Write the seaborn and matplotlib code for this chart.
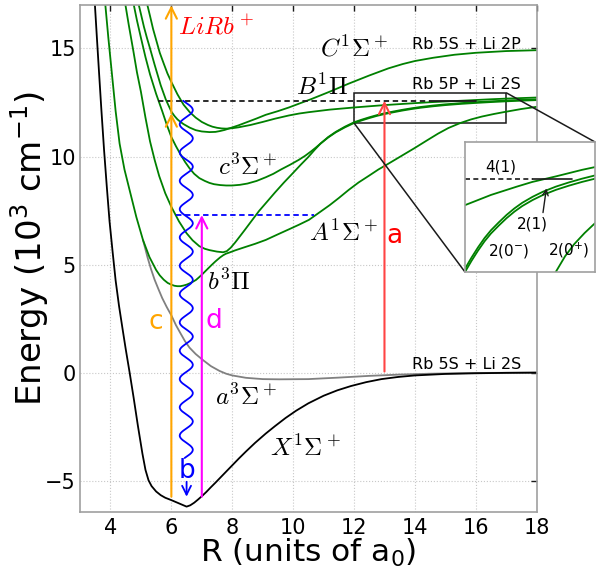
import numpy as np
import matplotlib
matplotlib.use("Agg")
import matplotlib.pyplot as plt
import seaborn as sns
from mpl_toolkits.axes_grid1.inset_locator import mark_inset

# ---------------- data ----------------
# X 1Sigma+ (black)
R_X = [3.49, 3.55, 3.62, 3.7, 3.79, 3.88, 3.97, 4.07, 4.17, 4.28, 4.4, 4.5, 4.63, 4.76, 4.9, 5.05,
       5.15, 5.25, 5.35, 5.5, 5.65, 5.8, 6.0, 6.25, 6.5, 6.62, 6.75, 6.87, 7.0, 7.15, 7.3, 7.45,
       7.58, 7.8, 8.0, 8.22, 8.45, 8.75, 9.1, 9.4, 9.75, 10.1, 10.5, 11.0, 11.45, 11.9, 12.4,
       12.9, 13.45, 14.0, 15.0, 16.0, 17.0, 18.0]
E_X = [17.0, 15.6, 14.0, 12.2, 10.3, 8.6, 7.0, 5.6, 4.26, 3.1, 2.0, 1.1, 0.0, -1.15, -2.45, -3.75,
       -4.5, -4.98, -5.25, -5.5, -5.67, -5.79, -5.9, -6.05, -6.2, -6.14, -6.02, -5.88, -5.72, -5.52,
       -5.3, -5.09, -4.9, -4.58, -4.29, -3.97, -3.65, -3.25, -2.82, -2.48, -2.1, -1.76, -1.42,
       -1.07, -0.82, -0.62, -0.44, -0.3, -0.2, -0.13, -0.06, -0.03, -0.01, 0.0]
# a 3Sigma+ (gray)
R_a = [5.07, 5.15, 5.22, 5.33, 5.45, 5.58, 5.7, 5.85, 6.0, 6.15, 6.3, 6.45, 6.6, 6.8, 7.03, 7.3,
       7.58, 7.8, 8.0, 8.45, 9.0, 9.54, 10.5, 11.5, 12.5, 13.5, 14.5, 16.0, 18.0]
E_a = [6.13, 5.7, 5.32, 4.8, 4.3, 3.85, 3.45, 3.03, 2.65, 2.2, 1.82, 1.45, 1.15, 0.86, 0.59, 0.3,
       0.08, -0.05, -0.13, -0.24, -0.3, -0.31, -0.3, -0.23, -0.15, -0.09, -0.05, -0.015, 0.0]
# b 3Pi -> A 1Sigma+ branch (green)
R_b = [3.82, 3.93, 4.05, 4.17, 4.3, 4.46, 4.63, 4.85, 5.07, 5.28, 5.5, 5.62, 5.75, 5.88, 6.0,
       6.1, 6.2, 6.3, 6.4, 6.5, 6.6, 6.7, 6.81, 6.9, 7.0, 7.15, 7.3, 7.45, 7.6, 7.7, 7.79, 7.95,
       8.1, 8.4, 8.75, 9.1, 9.5, 9.86, 10.2, 10.52, 10.85, 11.2, 11.5, 11.82, 12.15, 12.5, 12.8,
       13.13, 13.5, 14.0, 14.4, 14.76, 15.1, 15.49, 15.85, 16.2, 16.6, 16.94, 17.5, 18.0]
E_b = [17.2, 15.5, 13.8, 12.1, 10.6, 9.4, 8.44, 7.2, 6.13, 5.35, 4.75, 4.5, 4.3, 4.15, 4.07,
       4.02, 4.0, 4.0, 4.03, 4.07, 4.13, 4.2, 4.29, 4.4, 4.53, 4.74, 4.95, 5.15, 5.33, 5.43, 5.5,
       5.58, 5.66, 5.8, 5.96, 6.14, 6.4, 6.63, 6.85, 7.07, 7.4, 7.75, 8.08, 8.45, 8.8, 9.12, 9.4,
       9.67, 9.98, 10.4, 10.75, 11.06, 11.32, 11.55, 11.72, 11.85, 11.97, 12.06, 12.2, 12.3]
# A 1Sigma+ well -> steep branch, ends as upper line of the 2(1)/2(0-) pair (green)
R_P = [4.47, 4.6, 4.75, 4.87, 5.0, 5.15, 5.3, 5.45, 5.6, 5.8, 6.0, 6.25, 6.5, 6.7, 6.92, 7.1,
       7.25, 7.5, 7.7, 7.82, 7.95, 8.1, 8.4, 8.65, 8.88, 9.15, 9.4, 9.7, 9.97, 10.25, 10.5, 10.7,
       10.9, 11.15, 11.4, 11.7, 12.0, 12.25, 12.5, 12.75, 13.0, 13.3, 13.6, 13.9, 14.2, 14.6,
       15.0, 15.5, 16.0, 16.5, 17.0, 17.5, 18.0]
E_P = [17.2, 16.1, 14.9, 13.9, 13.0, 11.8, 10.7, 9.85, 9.1, 8.3, 7.67, 7.0, 6.45, 6.12, 5.85,
       5.73, 5.67, 5.6, 5.57, 5.62, 5.78, 6.03, 6.58, 7.05, 7.48, 7.92, 8.33, 8.8, 9.2, 9.62,
       9.98, 10.3, 10.6, 10.9, 11.14, 11.38, 11.585, 11.705, 11.815, 11.915, 12.0, 12.085,
       12.165, 12.235, 12.295, 12.36, 12.415, 12.47, 12.515, 12.555, 12.59, 12.62, 12.645]
# c 3Sigma+ (green), ends as lower line of the pair
R_c = [4.74, 4.87, 5.0, 5.15, 5.3, 5.5, 5.7, 5.85, 6.0, 6.15, 6.3, 6.45, 6.6, 6.75, 6.92, 7.1,
       7.25, 7.4, 7.6, 7.8, 8.0, 8.25, 8.5, 8.8, 9.1, 9.35, 9.6, 9.9, 10.19, 10.4, 10.6, 10.75,
       10.9, 11.15, 11.4, 11.7, 12.0, 12.25, 12.5, 12.75, 13.0, 13.3, 13.6, 13.9, 14.2, 14.6,
       15.0, 15.5, 16.0, 16.5, 17.0, 17.5, 18.0]
E_c = [17.2, 16.3, 15.5, 14.6, 13.8, 12.9, 12.1, 11.47, 10.9, 10.48, 10.1, 9.75, 9.45, 9.2, 9.0,
       8.87, 8.78, 8.72, 8.68, 8.66, 8.66, 8.69, 8.75, 8.87, 9.04, 9.2, 9.4, 9.62, 9.85, 10.04,
       10.25, 10.42, 10.6, 10.88, 11.12, 11.35, 11.55, 11.67, 11.78, 11.88, 11.965, 12.05, 12.13,
       12.2, 12.26, 12.325, 12.38, 12.435, 12.48, 12.52, 12.555, 12.585, 12.61]
# C 1Sigma+ (green)
R_C = [4.9, 5.0, 5.1, 5.2, 5.3, 5.45, 5.65, 5.82, 6.0, 6.1, 6.2, 6.3, 6.4, 6.6, 6.8, 7.0, 7.25,
       7.45, 7.6, 7.75, 7.9, 8.2, 8.5, 8.8, 9.1, 9.5, 9.86, 10.2, 10.6, 11.2, 11.82, 12.5, 13.13,
       13.6, 14.0, 14.6, 15.3, 16.0, 17.0, 18.0]
E_C = [17.2, 16.6, 16.0, 15.48, 15.0, 14.25, 13.3, 12.63, 12.08, 11.88, 11.72, 11.6, 11.5,
       11.34, 11.22, 11.16, 11.13, 11.14, 11.18, 11.23, 11.3, 11.44, 11.6, 11.76, 11.93, 12.1,
       12.27, 12.45, 12.66, 13.0, 13.37, 13.75, 14.08, 14.28, 14.42, 14.57, 14.71, 14.8, 14.88,
       14.92]
# B 1Pi (green)
R_B = [5.18, 5.3, 5.4, 5.5, 5.62, 5.75, 5.87, 6.0, 6.2, 6.4, 6.6, 6.8, 7.0, 7.2, 7.35, 7.5,
       7.65, 7.8, 8.0, 8.2, 8.6, 9.0, 9.4, 9.86, 10.2, 10.5, 11.2, 12.0, 13.0, 14.0, 14.59, 15.5,
       16.5, 17.0, 18.0]
E_B = [17.2, 16.5, 15.9, 15.4, 14.8, 14.3, 13.85, 13.45, 12.88, 12.4, 12.06, 11.8, 11.6, 11.46,
       11.38, 11.33, 11.3, 11.29, 11.31, 11.35, 11.46, 11.6, 11.75, 11.9, 11.99, 12.05, 12.17,
       12.27, 12.38, 12.47, 12.52, 12.58, 12.65, 12.68, 12.73]

curves = [
    (R_a, E_a, "#808080"),
    (R_X, E_X, "black"),
    (R_b, E_b, "green"),
    (R_P, E_P, "green"),
    (R_c, E_c, "green"),
    (R_C, E_C, "green"),
    (R_B, E_B, "green"),
]

state_labels = [r"$C^1\Sigma^+$", r"$B^1\Pi$", r"$c^3\Sigma^+$", r"$A^1\Sigma^+$",
                r"$b^3\Pi$", r"$a^3\Sigma^+$", r"$X^1\Sigma^+$"]
state_R = [12.0, 10.95, 8.5, 11.65, 7.9, 8.45, 10.4]
state_E = [15.0, 13.2, 9.52, 6.45, 4.2, -1.12, -3.5]

asym_labels = ["Rb 5S + Li 2P", "Rb 5P + Li 2S", "Rb 5S + Li 2S"]
asym_R = [13.9, 13.9, 13.9]
asym_E = [15.2, 13.35, 0.36]

E_dash = 12.58      # dashed black level
E_blue = 7.29       # blue dashed level
x_ticks = [4, 6, 8, 10, 12, 14, 16, 18]
y_ticks = [-5, 0, 5, 10, 15]

# ---------------- figure ----------------
sns.set_theme(style="white")
plt.rcParams["font.family"] = ["DejaVu Sans"]
plt.rcParams["mathtext.fontset"] = "dejavusans"
for key in ["text.color", "axes.labelcolor", "xtick.color", "ytick.color"]:
    plt.rcParams[key] = "black"

fig = plt.figure(figsize=(5.98, 5.71), dpi=100)
ax = fig.add_axes([0.1338, 0.1033, 0.7637, 0.8875])


def draw_curves(axis):
    for R, E, col in curves:
        sns.lineplot(x=R, y=E, ax=axis, color=col, lw=1.3, sort=False,
                     estimator=None, legend=False)


draw_curves(ax)

ax.set_xlim(3, 18)
ax.set_ylim(-6.45, 17.0)
ax.set_xticks(x_ticks)
ax.set_yticks(y_ticks)
ax.grid(True, ls=":", color="#c8c8c8", lw=0.8)
for s in ax.spines.values():
    s.set_color("#a0a0a0")
    s.set_linewidth(1.2)
ax.tick_params(direction="in", top=True, right=True, length=4, width=1, color="k",
               labelsize=15)
ax.tick_params(axis="y", pad=3)
ax.tick_params(axis="x", pad=4)
ax.set_xlabel(r"R (units of a$_0$)", fontsize=22.5)
ax.set_ylabel(r"Energy ($10^3$ cm$^{-1}$)", fontsize=24.5)
ax.xaxis.set_label_coords(0.5, -0.05)
ax.yaxis.set_label_coords(-0.064, 0.52)

# horizontal reference lines
ax.plot([5.56, 14.5], [E_dash, E_dash], color="k", ls=(0, (3, 2)), lw=1.3)
ax.plot([14.5, 16.0], [E_dash, E_dash], color="k", ls="-", lw=1.3)
ax.plot([6.16, 10.68], [E_blue, E_blue], color="blue", ls=(0, (3, 2)), lw=1.3)

# arrows
def arrow(x0, y0, x1, y1, col, ms=20, lw=1.5):
    ax.annotate("", xy=(x1, y1), xytext=(x0, y0),
                arrowprops=dict(arrowstyle="->", color=col, lw=lw, shrinkA=0, shrinkB=0,
                                mutation_scale=ms))

arrow(6.0, -5.74, 6.0, 12.0, "orange")
arrow(6.0, 12.0, 6.0, 17.0, "orange")
arrow(7.0, -5.74, 7.0, E_blue, "magenta")
arrow(13.0, 0.05, 13.0, E_dash, "#ff4444")
arrow(6.5, -5.05, 6.5, -5.74, "blue", ms=16, lw=1.3)

# emission squiggle (decoration)
wave_c, wave_amp, wave_period = 6.49, 0.215, 1.31
wave_E = np.linspace(-3.95, 12.58, 600)
wave_R = wave_c + wave_amp * np.sin(2 * np.pi * (wave_E - 4.29) / wave_period + np.pi / 2)
ax.plot(wave_R, wave_E, color="blue", lw=1.3)

# text labels
for t, x, y in zip(state_labels, state_R, state_E):
    ax.text(x, y, t, fontsize=18, ha="center", va="center", math_fontfamily="cm")
for t, x, y in zip(asym_labels, asym_R, asym_E):
    ax.text(x, y, t, fontsize=11.5, ha="left", va="center")

ax.text(7.47, 16.0, r"$LiRb^+$", color="red", fontsize=18, ha="center", va="center",
        math_fontfamily="cm")
ax.text(5.48, 2.35, "c", color="orange", fontsize=19, ha="center", va="center")
ax.text(7.41, 2.4, "d", color="magenta", fontsize=19, ha="center", va="center")
ax.text(6.51, -4.55, "b", color="blue", fontsize=19, ha="center", va="center")
ax.text(13.33, 6.33, "a", color="red", fontsize=19, ha="center", va="center")

# ---------------- inset ----------------
axins = fig.add_axes([465 / 598, 1 - 272 / 571, 130 / 598, 130 / 571])
draw_curves(axins)
axins.set_xlim(12, 17)
axins.set_ylim(11.55, 12.95)
axins.set_xticks([])
axins.set_yticks([])
axins.set_xlabel("")
axins.set_ylabel("")
for s in axins.spines.values():
    s.set_color("#a0a0a0")
    s.set_linewidth(1.2)
axins.plot([12, 14.6], [12.555, 12.555], color="k", ls=(0, (3, 2)), lw=1.2)
axins.plot([14.6, 16.13], [12.555, 12.555], color="k", ls="-", lw=1.2)
axins.text(13.37, 12.68, "4(1)", fontsize=11, ha="center", va="center")
axins.text(14.59, 12.07, "2(1)", fontsize=11, ha="center", va="center")
axins.text(13.69, 11.78, r"2(0$^{-}$)", fontsize=11, ha="center", va="center")
axins.text(16.0, 11.78, r"2(0$^{+}$)", fontsize=11, ha="center", va="center")
axins.annotate("", xy=(15.13, 12.45), xytext=(15.0, 12.19),
               arrowprops=dict(arrowstyle="->", color="k", lw=1.0, shrinkA=0, shrinkB=0,
                               mutation_scale=10))

mark_inset(ax, axins, loc1=1, loc2=3, fc="none", ec="k", lw=1.1)

fig.savefig("out.png", dpi=100)
